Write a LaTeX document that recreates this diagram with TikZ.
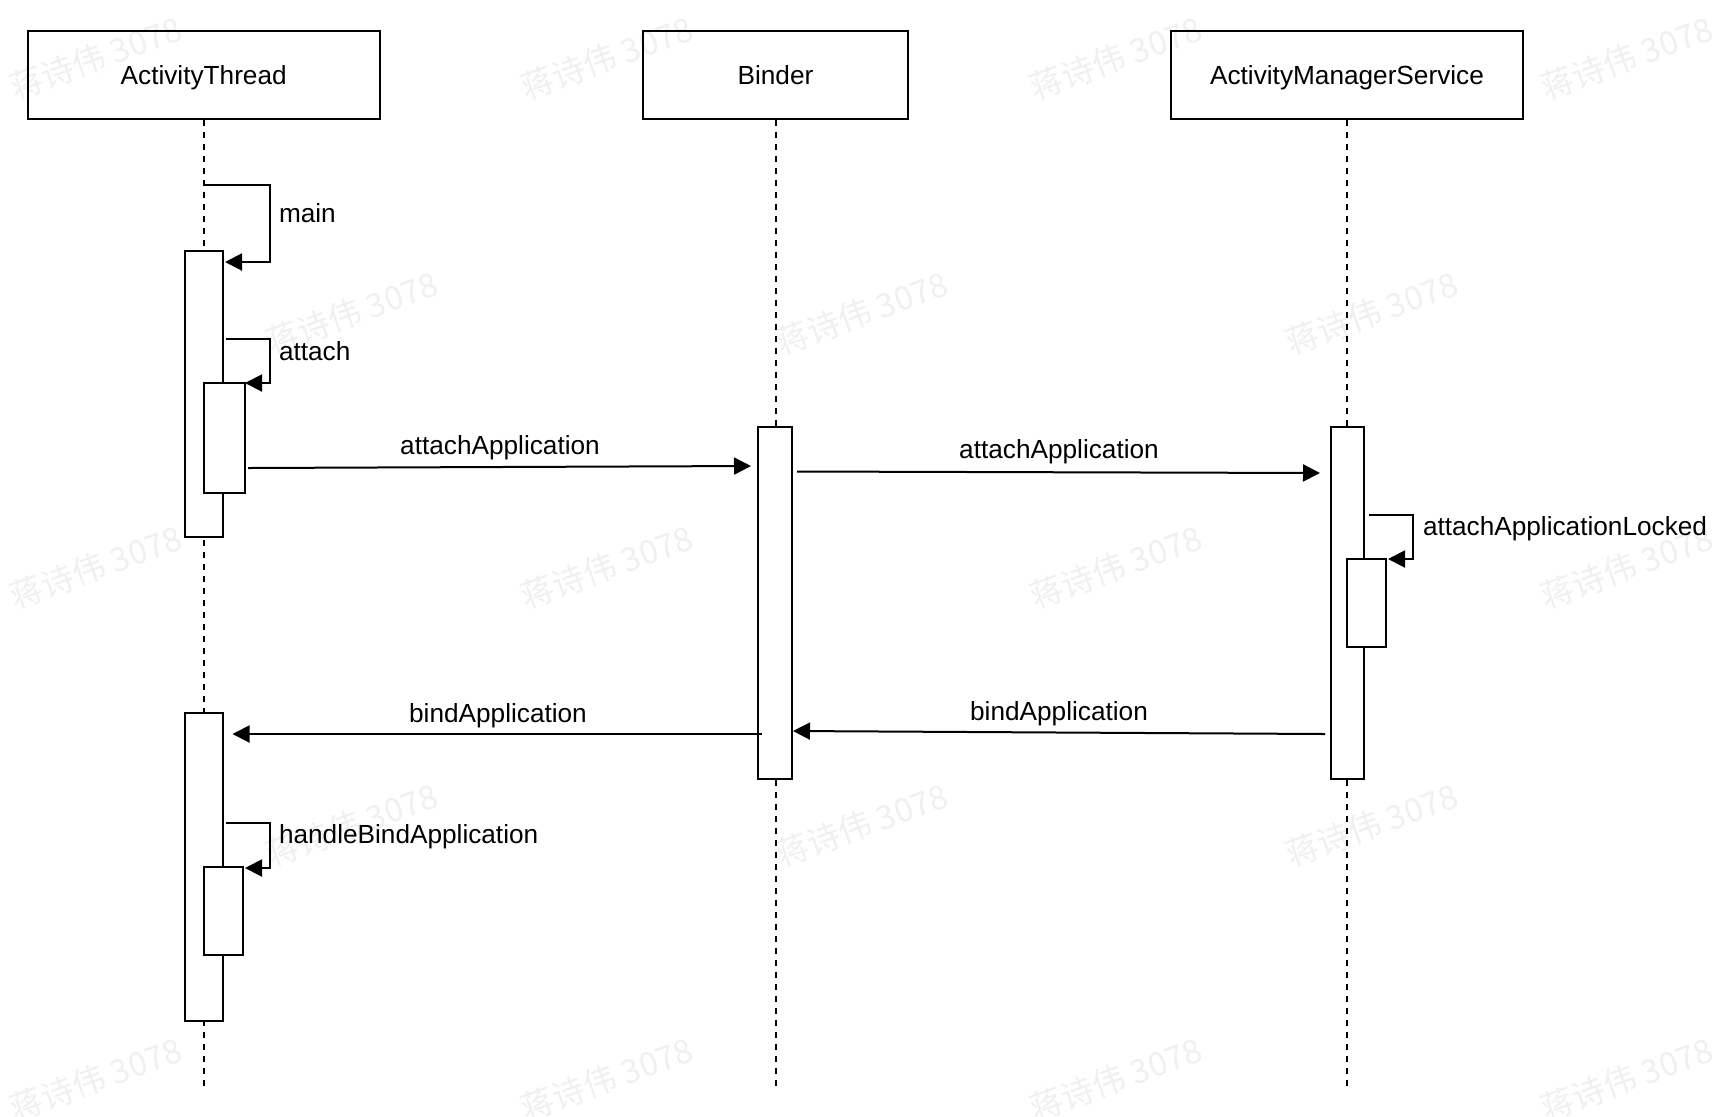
\documentclass[tikz,border=0pt]{standalone}
\usepackage{fontspec}
\setmainfont{Liberation Sans}
\newfontfamily\cjkwm{Noto Sans CJK SC}
\usetikzlibrary{arrows.meta}

\begin{document}
\begin{tikzpicture}[x=0.5pt,y=-0.5pt,
  font=\fontsize{13.1}{15.7}\selectfont,
  line width=1pt,
  actor/.style={draw, fill=white, inner sep=0pt, minimum height=43.75pt,
    text height=9.4pt, text depth=0pt},
  lifeline/.style={dash pattern=on 3pt off 3pt},
  bar/.style={draw, fill=white, inner sep=0pt},
  msg/.style={-{Triangle[length=8.5pt,width=8.5pt]}},
  lbl/.style={anchor=base, inner sep=0pt},
  slbl/.style={anchor=base west, inner sep=0pt},
  wm/.style={font=\cjkwm\fontsize{16.5}{20}\selectfont, text=black,
    text opacity=0.06, rotate=20, inner sep=0pt}
]
\fill[white] (0,0) rectangle (1736,1116);
\useasboundingbox (0,0) rectangle (1736,1116);

% participants
\node[actor, minimum width=176pt]   (at)  at (203.7,74.75) {ActivityThread};
\node[actor, minimum width=132.5pt] (bd)  at (775.5,74.75) {Binder};
\node[actor, minimum width=176pt]   (ams) at (1347,74.75)  {ActivityManagerService};

% lifelines
\coordinate (atend)  at (203.7,1087);
\coordinate (bdend)  at (775.5,1087);
\coordinate (amsend) at (1347,1087);
\draw[lifeline] (at.south)  -- (atend);
\draw[lifeline] (bd.south)  -- (bdend);
\draw[lifeline] (ams.south) -- (amsend);

% activation bars
\node[bar, minimum width=18.75pt, minimum height=143pt] (at1)  at (203.75,394) {};
\node[bar, minimum width=20.4pt,  minimum height=55pt]  (at1i) at (224.1,438)  {};
\node[bar, minimum width=18.75pt, minimum height=154pt] (at2)  at (203.75,867) {};
\node[bar, minimum width=19.4pt,  minimum height=44pt]  (at2i) at (223.1,911)  {};
\node[bar, minimum width=17pt,    minimum height=176pt] (bdb)  at (775,603)    {};
\node[bar, minimum width=16.5pt,  minimum height=176pt] (amsb) at (1347.5,603) {};
\node[bar, minimum width=19.5pt,  minimum height=44pt]  (amsi) at (1366.5,603) {};

% self calls
\coordinate (m1s) at (203.7,185); \coordinate (m1e) at (225,262);  \coordinate (m1x) at (270,0);
\coordinate (m2s) at (226,339);   \coordinate (m2e) at (245,383);  \coordinate (m2x) at (270,0);
\coordinate (m3s) at (1369,515);  \coordinate (m3e) at (1388,559); \coordinate (m3x) at (1413,0);
\coordinate (m4s) at (226,823);   \coordinate (m4e) at (245,868);  \coordinate (m4x) at (270,0);
\draw[msg] (m1s) -- (m1s -| m1x) -- (m1e -| m1x) -- (m1e);
\draw[msg] (m2s) -- (m2s -| m2x) -- (m2e -| m2x) -- (m2e);
\draw[msg] (m3s) -- (m3s -| m3x) -- (m3e -| m3x) -- (m3e);
\draw[msg] (m4s) -- (m4s -| m4x) -- (m4e -| m4x) -- (m4e);
\node[slbl] (lmain)  at (278,222)  {main};
\node[slbl] (lattach) at (278,360) {attach};
\node[slbl] (lattl)  at (1422,535) {attachApplicationLocked};
\node[slbl] (lhbind) at (278,843)  {handleBindApplication};

% messages between participants
\coordinate (a1s) at (248,468);   \coordinate (a1e) at (751,466);
\coordinate (a2s) at (797,471.5); \coordinate (a2e) at (1320,473);
\coordinate (b1s) at (1325,734);  \coordinate (b1e) at (793,731);
\coordinate (b2s) at (762,734);   \coordinate (b2e) at (232.5,734);
\draw[msg] (a1s) -- (a1e);
\draw[msg] (a2s) -- (a2e);
\draw[msg] (b1s) -- (b1e);
\draw[msg] (b2s) -- (b2e);
\node[lbl] (la1) at (500,454)  {attachApplication};
\node[lbl] (la2) at (1059,458) {attachApplication};
\node[lbl] (lb1) at (1059,720) {bindApplication};
\node[lbl] (lb2) at (498,722)  {bindApplication};

% watermark grid
\foreach \y in {58,567,1079}
  \foreach \x in {96,607,1116,1627}
    \node[wm] at (\x,\y) {蒋诗伟 3078};
\foreach \y in {313,825}
  \foreach \x in {352,862,1372}
    \node[wm] at (\x,\y) {蒋诗伟 3078};
\end{tikzpicture}
\end{document}
